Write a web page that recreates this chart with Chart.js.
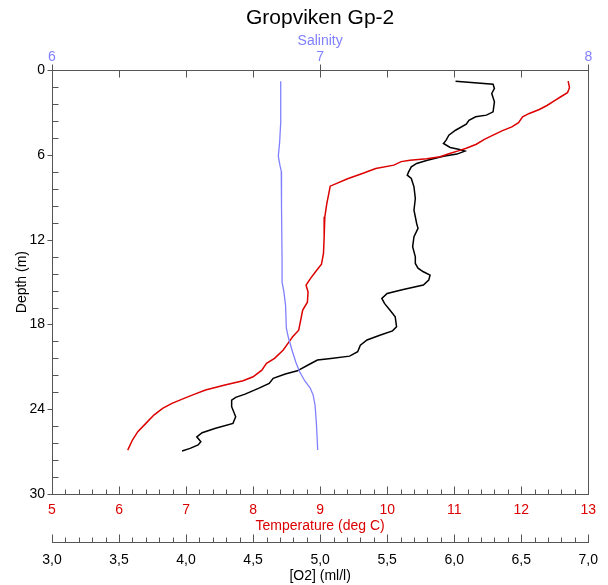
<!DOCTYPE html>
<html lang="en">
<head>
    <meta charset="UTF-8">
    <title>Gropviken Gp-2</title>
    <script src="https://cdn.jsdelivr.net/npm/chart.js"></script>
    <style>
        body {
            margin: 0;
            padding: 0;
            background-color: white;
        }
        #profile {
            display: block;
        }
    </style>
</head>
<body>
    <canvas id="profile" width="608" height="585"></canvas>

    <script>
        // O2 (ml/l) profile, black
        var o2Depth = [0.78, 0.99, 1.29, 1.65, 2.24, 2.95, 3.18, 3.30, 3.54, 3.82, 4.25, 4.60, 4.95, 5.19, 5.47, 5.61, 5.73, 5.94, 6.09, 6.37,
            6.60, 6.84, 7.20, 7.43, 7.66, 8.26, 9.08, 9.91, 10.85, 11.20, 11.79, 12.50, 13.21, 13.68, 14.01, 14.27, 14.51, 14.86, 15.21, 15.52,
            15.80, 16.15, 16.51, 16.98, 17.46, 18.16, 18.45, 18.75, 19.10, 19.46, 19.93, 20.24, 20.40, 20.52, 20.87, 21.28, 21.51, 21.81, 22.17, 22.52,
            22.93, 23.16, 23.35, 23.82, 24.53, 25.00, 25.35, 25.66, 25.95, 26.30, 26.53, 26.77, 26.96];
        var o2Values = [6.01, 6.29, 6.30, 6.28, 6.30, 6.29, 6.24, 6.16, 6.11, 6.09, 6.01, 5.96, 5.94, 5.92, 5.97, 6.04, 6.08, 6.02, 5.92, 5.80,
            5.72, 5.68, 5.66, 5.65, 5.68, 5.70, 5.71, 5.70, 5.72, 5.73, 5.70, 5.69, 5.71, 5.71, 5.73, 5.77, 5.82, 5.81, 5.77, 5.62,
            5.50, 5.46, 5.48, 5.52, 5.56, 5.57, 5.54, 5.45, 5.35, 5.30, 5.28, 5.22, 5.08, 4.98, 4.91, 4.83, 4.74, 4.65, 4.62, 4.54,
            4.44, 4.37, 4.34, 4.34, 4.37, 4.35, 4.22, 4.12, 4.08, 4.11, 4.09, 4.03, 3.97];

        // temperature (deg C) profile, red
        var tempDepth = [0.78, 1.24, 1.59, 1.88, 2.12, 2.48, 2.78, 3.06, 3.30, 3.71, 4.01, 4.28, 4.60, 4.90, 5.24, 5.52, 5.71, 5.91, 6.12, 6.26,
            6.37, 6.47, 6.72, 6.96, 7.31, 7.68, 8.21, 8.72, 9.43, 10.38, 11.79, 12.97, 13.73, 14.22, 14.72, 15.21, 15.71, 16.42, 16.98, 17.69,
            18.40, 18.87, 19.34, 19.81, 20.40, 20.75, 21.23, 21.70, 21.98, 22.29, 22.64, 22.95, 23.23, 23.58, 23.94, 24.41, 25.00, 25.59, 26.18, 26.89];
        var tempValues = [12.70, 12.72, 12.69, 12.59, 12.51, 12.39, 12.27, 12.12, 12.02, 11.96, 11.86, 11.72, 11.58, 11.45, 11.33, 11.18, 11.06, 10.92, 10.79, 10.59,
            10.34, 10.21, 10.10, 9.83, 9.63, 9.41, 9.15, 9.13, 9.10, 9.07, 9.06, 9.05, 9.02, 8.94, 8.86, 8.79, 8.82, 8.81, 8.74, 8.71,
            8.68, 8.59, 8.52, 8.45, 8.32, 8.20, 8.13, 8.00, 7.85, 7.58, 7.29, 7.12, 6.97, 6.79, 6.65, 6.52, 6.40, 6.28, 6.20, 6.13];

        // salinity profile, blue
        var salDepth = [0.78, 3.68, 5.09, 6.09, 6.72, 7.15, 9.76, 13.44, 14.51, 15.00, 15.71, 16.63, 18.26, 18.96, 19.81, 20.66, 21.37, 22.00, 22.50, 23.00,
            23.70, 24.98, 26.89];
        var salValues = [6.853, 6.853, 6.849, 6.844, 6.850, 6.855, 6.856, 6.858, 6.858, 6.858, 6.865, 6.871, 6.874, 6.882, 6.895, 6.909, 6.924, 6.943, 6.963, 6.974,
            6.981, 6.986, 6.991];

        var axisColor = '#555555';
        var blue = '#8080ff';
        var red = '#dc0000';
        var labelFont = { family: 'Liberation Sans, Arial, sans-serif', size: 14 };

        function toPoints(values, depths) {
            return values.map(function (v, i) { return { x: v, y: depths[i] }; });
        }

        // tick marks: majors and minors, drawn with the scales' own pixel mapping
        var tickSpecs = {
            y:    { min: 0, max: 30, major: 6,   minor: 1.2,  majorOut: 5, majorIn: 0, minorIn: 6, minorOut: 0 },
            xSal: { min: 6, max: 8,  major: 1,   minor: 0.25, majorOut: 6, majorIn: 7, minorIn: 7, minorOut: 0 },
            xTemp:{ min: 5, max: 13, major: 1,   minor: 0.2,  majorOut: 0, majorIn: 8, minorIn: 5, minorOut: 0 },
            xO2:  { min: 3, max: 7,  major: 0.5, minor: 0.1,  majorOut: 0, majorIn: 8, minorIn: 5, minorOut: 0 }
        };

        var tickPlugin = {
            id: 'tickMarks',
            afterDraw: function (chart) {
                var ctx = chart.ctx;
                var area = chart.chartArea;
                ctx.save();
                ctx.strokeStyle = axisColor;
                ctx.lineWidth = 1;
                ctx.beginPath();
                // right frame
                ctx.moveTo(Math.round(area.right) + 0.5, area.top);
                ctx.lineTo(Math.round(area.right) + 0.5, area.bottom);

                Object.keys(tickSpecs).forEach(function (id) {
                    var s = tickSpecs[id];
                    var scale = chart.scales[id];
                    var n = Math.round((s.max - s.min) / s.minor);
                    var perMajor = Math.round(s.major / s.minor);
                    for (var i = 0; i <= n; i++) {
                        var v = s.min + i * s.minor;
                        var p = Math.round(scale.getPixelForValue(v)) + 0.5;
                        var isMajor = i % perMajor === 0;
                        var out = isMajor ? s.majorOut : s.minorOut;
                        var inn = isMajor ? s.majorIn : s.minorIn;
                        if (id === 'y') {
                            var x0 = Math.round(area.left) + 0.5;
                            ctx.moveTo(x0 - out, p);
                            ctx.lineTo(x0 + inn, p);
                        } else if (id === 'xSal') {
                            var yt = Math.round(area.top) + 0.5;
                            ctx.moveTo(p, yt - out);
                            ctx.lineTo(p, yt + inn);
                        } else {
                            var yb = Math.round(scale.top) + 0.5;
                            ctx.moveTo(p, yb + out);
                            ctx.lineTo(p, yb - inn);
                        }
                    }
                });
                ctx.stroke();
                ctx.restore();
            }
        };

        var ctx = document.getElementById('profile').getContext('2d');
        var chart = new Chart(ctx, {
            type: 'scatter',
            data: {
                datasets: [
                    {
                        label: 'Salinity',
                        data: toPoints(salValues, salDepth),
                        xAxisID: 'xSal',
                        yAxisID: 'y',
                        showLine: true,
                        borderColor: blue,
                        borderWidth: 1.3,
                        pointRadius: 0
                    },
                    {
                        label: 'Temperature',
                        data: toPoints(tempValues, tempDepth),
                        xAxisID: 'xTemp',
                        yAxisID: 'y',
                        showLine: true,
                        borderColor: red,
                        borderWidth: 1.5,
                        pointRadius: 0
                    },
                    {
                        label: 'O2',
                        data: toPoints(o2Values, o2Depth),
                        xAxisID: 'xO2',
                        yAxisID: 'y',
                        showLine: true,
                        borderColor: '#000000',
                        borderWidth: 1.5,
                        pointRadius: 0
                    }
                ]
            },
            options: {
                responsive: false,
                animation: false,
                devicePixelRatio: 1,
                layout: { padding: { left: 0, right: 15, top: 0, bottom: 0 } },
                plugins: {
                    legend: { display: false },
                    tooltip: { enabled: false },
                    title: {
                        display: true,
                        fullSize: false,
                        text: 'Gropviken Gp-2',
                        color: '#000000',
                        font: { family: 'Liberation Sans, Arial, sans-serif', size: 21, weight: 'normal' },
                        padding: { top: 6, bottom: 0 }
                    }
                },
                scales: {
                    y: {
                        type: 'linear',
                        position: 'left',
                        reverse: true,
                        min: 0,
                        max: 30,
                        grid: { display: false, drawTicks: false },
                        border: { display: true, color: axisColor },
                        ticks: { stepSize: 6, color: '#000000', font: labelFont, padding: 7 },
                        title: { display: true, text: 'Depth (m)', color: '#000000', font: labelFont, padding: { top: 14, bottom: 0 } },
                        afterFit: function (scale) { scale.width = 52; }
                    },
                    xSal: {
                        type: 'linear',
                        position: 'top',
                        min: 6,
                        max: 8,
                        grid: { display: false, drawTicks: false },
                        border: { display: true, color: axisColor },
                        ticks: { stepSize: 1, color: blue, font: labelFont, padding: 5 },
                        title: { display: true, text: 'Salinity', color: blue, font: labelFont, padding: { top: 2, bottom: 0 } },
                        afterFit: function (scale) { scale.height = 39; }
                    },
                    xTemp: {
                        type: 'linear',
                        position: 'bottom',
                        weight: 0,
                        min: 5,
                        max: 13,
                        grid: { display: false, drawTicks: false },
                        border: { display: true, color: axisColor },
                        ticks: { stepSize: 1, color: red, font: labelFont, padding: 8 },
                        title: { display: true, text: 'Temperature (deg C)', color: red, font: labelFont, padding: { top: 0, bottom: 7 } },
                        afterFit: function (scale) { scale.height = 48; }
                    },
                    xO2: {
                        type: 'linear',
                        position: 'bottom',
                        weight: 1,
                        min: 3,
                        max: 7,
                        grid: { display: false, drawTicks: false },
                        border: { display: true, color: axisColor },
                        ticks: {
                            stepSize: 0.5,
                            color: '#000000',
                            font: labelFont,
                            padding: 10,
                            callback: function (value) { return value.toFixed(1).replace('.', ','); }
                        },
                        title: { display: true, text: '[O2] (ml/l)', color: '#000000', font: labelFont, padding: { top: 0, bottom: 0 } },
                        afterFit: function (scale) { scale.height = 43; }
                    }
                }
            },
            plugins: [tickPlugin]
        });
    </script>
</body>
</html>
